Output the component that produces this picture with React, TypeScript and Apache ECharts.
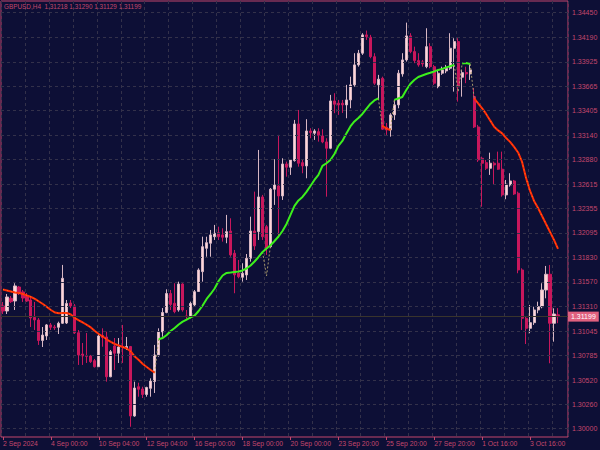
import { useEffect, useRef } from 'react';
import * as echarts from 'echarts';

const symbolName = 'GBPUSD,H4';

const tickLabels = [
  '2 Sep 2024', '4 Sep 00:00', '10 Sep 04:00', '12 Sep 04:00', '16 Sep 00:00', '18 Sep 00:00',
  '20 Sep 00:00', '23 Sep 20:00', '25 Sep 20:00', '27 Sep 20:00', '1 Oct 16:00', '3 Oct 16:00',
];

const priceTicks = [
  '1.30000', '1.30260', '1.30520', '1.30785', '1.31045', '1.31310', '1.31570', '1.31830', '1.32095',
  '1.32355', '1.32615', '1.32880', '1.33140', '1.33405', '1.33665', '1.33925', '1.34190', '1.34450',
];

const opens = [
  1.31313, 1.31259, 1.31395, 1.31366, 1.31516, 1.31463, 1.31420, 1.31377, 1.31190, 1.31163,
  1.30944, 1.30992, 1.31110, 1.31088, 1.31085, 1.31128, 1.31131, 1.31345, 1.31313, 1.31027,
  1.30799, 1.30780, 1.30778, 1.30728, 1.30663, 1.30997, 1.30981, 1.30556, 1.30885, 1.30807,
  1.30879, 1.30860, 1.30879, 1.30136, 1.30449, 1.30425, 1.30366, 1.30432, 1.30505, 1.30789,
  1.31035, 1.31243, 1.31446, 1.31342, 1.31270, 1.31548, 1.31206, 1.31198, 1.31324, 1.31468,
  1.31680, 1.31930, 1.31984, 1.32054, 1.32097, 1.32073, 1.32048, 1.32115, 1.31877, 1.31663,
  1.31620, 1.31645, 1.31823, 1.32115, 1.32108, 1.32479, 1.32161, 1.31947, 1.32562, 1.32597,
  1.32490, 1.32832, 1.32797, 1.32868, 1.33260, 1.32846, 1.32811, 1.33185, 1.33161, 1.33178,
  1.33132, 1.33068, 1.33000, 1.33506, 1.33482, 1.33482, 1.33464, 1.33517, 1.33678, 1.33892,
  1.34017, 1.34213, 1.34188, 1.33980, 1.33678, 1.33749, 1.33225, 1.33196, 1.33357, 1.33464,
  1.33795, 1.33945, 1.34202, 1.34034, 1.33938, 1.33924, 1.33873, 1.34087, 1.33873, 1.33659,
  1.33803, 1.33827, 1.33856, 1.34070, 1.34141, 1.33760, 1.33811, 1.33795, 1.33552, 1.33228,
  1.32893, 1.32846, 1.32786, 1.32840, 1.32840, 1.32776, 1.32501, 1.32608, 1.32650, 1.32519,
  1.31698, 1.31181, 1.31074, 1.31134, 1.31270, 1.31305, 1.31484, 1.31652, 1.31128, 1.31218,
];

const highs = [
  1.31356, 1.31441, 1.31420, 1.31556, 1.31527, 1.31484, 1.31452, 1.31398, 1.31356, 1.31184,
  1.31088, 1.31120, 1.31131, 1.31110, 1.31145, 1.31752, 1.31377, 1.31377, 1.31334, 1.31056,
  1.30917, 1.31024, 1.30789, 1.30746, 1.31021, 1.31074, 1.31038, 1.30842, 1.30970, 1.30970,
  1.31110, 1.30981, 1.30885, 1.30503, 1.30492, 1.30449, 1.30449, 1.30539, 1.30896, 1.31074,
  1.31291, 1.31491, 1.31484, 1.31556, 1.31573, 1.31556, 1.31270, 1.31359, 1.31484, 1.31716,
  1.32054, 1.32054, 1.32126, 1.32180, 1.32161, 1.32144, 1.32287, 1.32251, 1.31912, 1.31805,
  1.31770, 1.31869, 1.32268, 1.32536, 1.32982, 1.32501, 1.32180, 1.32575, 1.32883, 1.33143,
  1.32893, 1.32857, 1.32883, 1.33303, 1.33410, 1.32875, 1.33311, 1.33214, 1.33204, 1.33214,
  1.33204, 1.33107, 1.33571, 1.33589, 1.33517, 1.33517, 1.33678, 1.33766, 1.34017, 1.34052,
  1.34231, 1.34259, 1.34213, 1.34017, 1.33785, 1.33766, 1.33271, 1.33375, 1.33517, 1.33838,
  1.34017, 1.34344, 1.34231, 1.34087, 1.34017, 1.33945, 1.34284, 1.34124, 1.33892, 1.33838,
  1.33873, 1.33892, 1.34231, 1.34177, 1.34177, 1.33838, 1.33873, 1.33913, 1.33645, 1.33250,
  1.32910, 1.32875, 1.32953, 1.32857, 1.32964, 1.32964, 1.32661, 1.32733, 1.32661, 1.32536,
  1.31716, 1.31198, 1.31324, 1.31305, 1.31359, 1.31556, 1.31741, 1.31752, 1.31288, 1.31290,
];

const lows = [
  1.31227, 1.31227, 1.31345, 1.31270, 1.31430, 1.31356, 1.31356, 1.31088, 1.31056, 1.30896,
  1.30874, 1.30949, 1.31056, 1.31056, 1.31013, 1.31120, 1.31120, 1.31291, 1.31013, 1.30682,
  1.30682, 1.30703, 1.30703, 1.30655, 1.30660, 1.30877, 1.30503, 1.30550, 1.30628, 1.30703,
  1.30703, 1.30842, 1.30021, 1.30128, 1.30342, 1.30328, 1.30342, 1.30342, 1.30382, 1.30770,
  1.30984, 1.31235, 1.31270, 1.31235, 1.31252, 1.31252, 1.31163, 1.31181, 1.31305, 1.31463,
  1.31573, 1.31840, 1.31840, 1.32019, 1.32019, 1.32001, 1.31984, 1.31840, 1.31449, 1.31609,
  1.31573, 1.31591, 1.31787, 1.31912, 1.32019, 1.32019, 1.31859, 1.31933, 1.32394, 1.32040,
  1.32447, 1.32696, 1.32715, 1.32857, 1.32803, 1.32733, 1.32679, 1.33107, 1.33089, 1.33071,
  1.33054, 1.32482, 1.32990, 1.33375, 1.33357, 1.33378, 1.33321, 1.33428, 1.33659, 1.33873,
  1.33999, 1.34159, 1.33963, 1.33678, 1.33517, 1.33196, 1.33143, 1.33124, 1.33303, 1.33428,
  1.33766, 1.33927, 1.34017, 1.33910, 1.33873, 1.33873, 1.33856, 1.33856, 1.33678, 1.33642,
  1.33785, 1.33803, 1.33838, 1.33606, 1.33499, 1.33552, 1.33696, 1.33731, 1.33217, 1.32854,
  1.32375, 1.32768, 1.32715, 1.32608, 1.32768, 1.32482, 1.32455, 1.32589, 1.32501, 1.31663,
  1.31056, 1.30906, 1.31021, 1.31110, 1.31235, 1.31288, 1.31395, 1.30700, 1.30931, 1.31129,
];

const closes = [
  1.31259, 1.31409, 1.31359, 1.31527, 1.31452, 1.31398, 1.31366, 1.31184, 1.31163, 1.30944,
  1.31002, 1.31110, 1.31085, 1.31080, 1.31128, 1.31609, 1.31340, 1.31313, 1.31027, 1.30789,
  1.30778, 1.30775, 1.30717, 1.30663, 1.30992, 1.30976, 1.30556, 1.30824, 1.30807, 1.30874,
  1.30874, 1.30879, 1.30136, 1.30435, 1.30422, 1.30366, 1.30441, 1.30510, 1.30789, 1.31038,
  1.31243, 1.31446, 1.31329, 1.31252, 1.31548, 1.31270, 1.31198, 1.31340, 1.31466, 1.31698,
  1.31947, 1.31990, 1.32073, 1.32091, 1.32054, 1.32048, 1.32108, 1.31859, 1.31645, 1.31626,
  1.31663, 1.31823, 1.32115, 1.31955, 1.32479, 1.32054, 1.31930, 1.32562, 1.32608, 1.32490,
  1.32832, 1.32797, 1.32875, 1.33260, 1.32840, 1.32811, 1.33185, 1.33167, 1.33185, 1.33139,
  1.33068, 1.33000, 1.33506, 1.33471, 1.33464, 1.33464, 1.33517, 1.33678, 1.33892, 1.34017,
  1.34213, 1.34194, 1.33980, 1.33696, 1.33739, 1.33204, 1.33196, 1.33357, 1.33464, 1.33803,
  1.33945, 1.34202, 1.34034, 1.33938, 1.33892, 1.33902, 1.34087, 1.33873, 1.33696, 1.33803,
  1.33838, 1.33854, 1.34070, 1.34141, 1.33659, 1.33809, 1.33795, 1.33838, 1.33228, 1.32875,
  1.32840, 1.32786, 1.32840, 1.32822, 1.32776, 1.32501, 1.32615, 1.32650, 1.32511, 1.31698,
  1.31181, 1.31074, 1.31134, 1.31270, 1.31305, 1.31484, 1.31652, 1.31128, 1.31227, 1.31199,
];

// trend indicator line values (one per bar)
const maValues = [
  1.31489, 1.31479, 1.31468, 1.31457, 1.31452, 1.31441, 1.31425, 1.31409, 1.31388, 1.31361,
  1.31334, 1.31302, 1.31270, 1.31243, 1.31235, 1.31238, 1.31238, 1.31222, 1.31184, 1.31158,
  1.31136, 1.31110, 1.31083, 1.31045, 1.31013, 1.30986, 1.30954, 1.30928, 1.30906, 1.30890,
  1.30874, 1.30858, 1.30826, 1.30772, 1.30735, 1.30692, 1.30660, 1.30628, 1.30599, 1.30957,
  1.30970, 1.31003, 1.31045, 1.31077, 1.31115, 1.31145, 1.31168, 1.31190, 1.31211, 1.31259,
  1.31318, 1.31388, 1.31441, 1.31500, 1.31580, 1.31639, 1.31666, 1.31671, 1.31677, 1.31682,
  1.31693, 1.31714, 1.31746, 1.31789, 1.31837, 1.31891, 1.31928, 1.31962, 1.32008, 1.32056,
  1.32115, 1.32190, 1.32287, 1.32383, 1.32442, 1.32479, 1.32533, 1.32597, 1.32661, 1.32715,
  1.32811, 1.32840, 1.32875, 1.32939, 1.33025, 1.33078, 1.33159, 1.33233, 1.33287, 1.33324,
  1.33367, 1.33421, 1.33474, 1.33512, 1.33533, 1.33239, 1.33212, 1.33196, 1.33517, 1.33533,
  1.33549, 1.33624, 1.33688, 1.33731, 1.33763, 1.33779, 1.33795, 1.33808, 1.33822, 1.33838,
  1.33849, 1.33865, 1.33878, 1.33892, 1.33603, 1.33908, 1.33913, 1.33902, 1.33533, 1.33480,
  1.33426, 1.33367, 1.33298, 1.33231, 1.33191, 1.33159, 1.33110, 1.33068, 1.33014, 1.32955,
  1.32854, 1.32682, 1.32543, 1.32436, 1.32361, 1.32276, 1.32190, 1.32105, 1.32019, 1.31923,
];

// bar ranges of each indicator colour
const redRuns = [[0, 38], [95, 97], [118, 139]];
const greenRuns = [[39, 94], [98, 113], [115, 117]];
const dottedRuns = [[38, 39], [65, 67], [94, 95], [97, 98], [113, 115], [117, 118]];
const dottedDips: Record<number, number> = { 66: 1.31634 };

const EMPTY_RIGHT = 2; // chart shift (empty bars on the right)

const BG = '#0d0f36';
const FG = '#c4476c';
const GRID = '#33314a';
const FONT = "'Liberation Sans', Arial, sans-serif";

function runData(runs: number[][], n: number, override?: Record<number, number>) {
  const out: (number | null)[] = new Array(n).fill(null);
  runs.forEach(([a, b]) => {
    for (let i = a; i <= b; i++) {
      out[i] = override && override[i] !== undefined ? override[i] : maValues[i];
    }
  });
  return out;
}

export default function App() {
  const ref = useRef<HTMLDivElement>(null);
  useEffect(() => {
    const chart = echarts.init(ref.current!, null, { renderer: 'svg' });
    const n = opens.length + EMPTY_RIGHT;
    const cats = Array.from({ length: n }, (_, i) => String(i));
    const candles = opens.map((o, i) => [o, closes[i], lows[i], highs[i]]);
    const last = opens.length - 1;
    const lastClose = closes[last];
    const Y_MIN = 1.299112;
    const Y_MAX = 1.345754;
    const redData = runData(redRuns, n);

    const option: any = {
      animation: false,
      backgroundColor: BG,
      title: {
        text: `${symbolName}  ${opens[last].toFixed(5)} ${highs[last].toFixed(5)} ${lows[last].toFixed(5)} ${lastClose.toFixed(5)}`,
        left: 4,
        top: 3,
        padding: 0,
        textStyle: { color: FG, fontSize: 6.4, fontWeight: 'normal', fontFamily: FONT },
      },
      grid: {
        left: 0, top: 1, width: 568, height: 436,
        show: true, borderColor: FG, borderWidth: 1, backgroundColor: 'transparent',
      },
      xAxis: {
        type: 'category',
        data: cats,
        boundaryGap: true,
        axisLine: { show: false },
        axisTick: { show: true, interval: 11, alignWithLabel: true, length: 3, lineStyle: { color: FG } },
        axisLabel: {
          show: true, interval: 11, align: 'left', margin: 3,
          color: FG, fontSize: 6.8, fontFamily: FONT,
          formatter: (_v: string, idx: number) => (idx % 12 === 0 ? tickLabels[idx / 12] ?? '' : ''),
        },
        splitLine: { show: true, interval: 5, lineStyle: { color: GRID, type: [3, 3], width: 1 } },
      },
      yAxis: {
        type: 'value', position: 'right', min: Y_MIN, max: Y_MAX, scale: true,
        axisLabel: { show: false }, axisTick: { show: false }, axisLine: { show: false },
        splitLine: { show: false },
      },
      series: [
        {
          type: 'candlestick',
          data: candles,
          barWidth: 2.6,
          z: 2,
          itemStyle: {
            color: '#ffd5d8', color0: '#c8175c',
            borderColor: '#d7b7c3', borderColor0: '#c8175c', borderWidth: 1,
          },
          markLine: {
            silent: true, animation: false, symbol: ['none', 'none'], precision: 5,
            data: [
              ...priceTicks.map((t) => ({
                yAxis: parseFloat(t),
                lineStyle: { color: GRID, type: [3, 3], width: 1 },
                label: { show: true, position: 'end', formatter: t, color: FG, fontSize: 7, fontFamily: FONT, distance: 4 },
              })),
              {
                yAxis: lastClose,
                lineStyle: { color: '#39342c', type: 'solid', width: 1 },
                label: {
                  show: true, position: 'end', formatter: lastClose.toFixed(5), color: '#ffffff',
                  backgroundColor: '#e0607f', padding: [2, 3, 1, 3], fontSize: 7, fontFamily: FONT, distance: 0,
                },
              },
            ],
          },
        },
        {
          type: 'line', data: redData, symbol: 'none', showSymbol: false, z: 4,
          connectNulls: false, lineStyle: { color: '#ff2a08', width: 2 },
        },
        {
          type: 'line', data: redData, symbol: 'none', showSymbol: false, z: 5,
          connectNulls: false, lineStyle: { color: '#ff9a10', width: 0.8, type: [1, 3] },
        },
        {
          type: 'line', data: runData(greenRuns, n), symbol: 'none', showSymbol: false, z: 4,
          connectNulls: false, lineStyle: { color: '#3cf01c', width: 2 },
        },
        {
          type: 'line', data: runData(dottedRuns, n, dottedDips), symbol: 'none', showSymbol: false, z: 3,
          connectNulls: false, lineStyle: { color: '#a89a6c', width: 1, type: [2, 2] },
        },
      ],
    };
    chart.setOption(option);
    return () => chart.dispose();
  }, []);
  return <div ref={ref} style={{ position: 'fixed', left: 0, top: 0, width: 600, height: 450 }} />;
}
